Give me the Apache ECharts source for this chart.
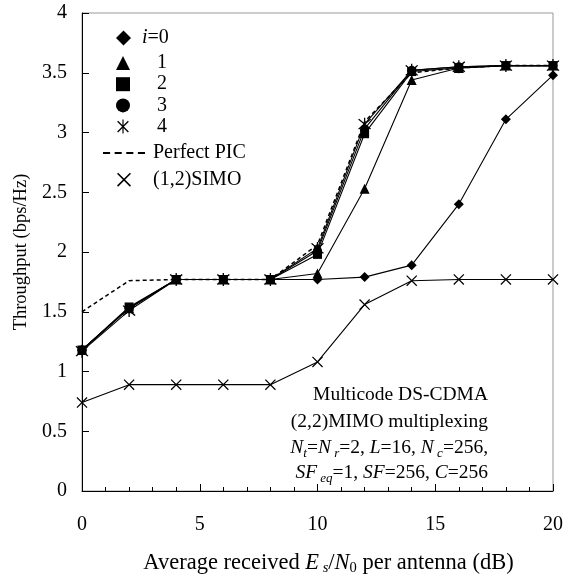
<!DOCTYPE html>
<html><head><meta charset="utf-8">
<script src="https://cdn.jsdelivr.net/npm/echarts@6/dist/echarts.min.js"></script>
<style>html,body{margin:0;padding:0;background:#fff}#c{width:576px;height:580px}</style>
</head><body><div id="c"></div>
<script>
const snr = [0, 2, 4, 6, 8, 10, 12, 14, 16, 18, 20];
const i0 = [1.18, 1.53, 1.77, 1.77, 1.77, 1.77, 1.79, 1.89, 2.40, 3.11, 3.48];
const i1 = [1.18, 1.53, 1.77, 1.77, 1.77, 1.82, 2.53, 3.44, 3.54, 3.56, 3.56];
const i2 = [1.18, 1.54, 1.77, 1.77, 1.77, 1.98, 2.99, 3.51, 3.54, 3.56, 3.56];
const i3 = [1.18, 1.53, 1.77, 1.77, 1.77, 2.01, 3.03, 3.52, 3.55, 3.56, 3.56];
const i4 = [1.17, 1.51, 1.77, 1.77, 1.77, 2.03, 3.07, 3.52, 3.55, 3.56, 3.56];
const pic = [1.50, 1.76, 1.77, 1.77, 1.77, 2.06, 3.09, 3.50, 3.54, 3.56, 3.56];
const simo = [0.74, 0.89, 0.89, 0.89, 0.89, 1.08, 1.56, 1.76, 1.77, 1.77, 1.77];
const yTicks = [0, 0.5, 1, 1.5, 2, 2.5, 3, 3.5, 4];
const xTicks = [0, 5, 10, 15, 20];

const FONT = '"Liberation Serif", "DejaVu Serif", serif';
const CROSS = 'path://M0,0.8 L0.8,0 L10,9.2 L9.2,10 Z M9.2,0 L10,0.8 L0.8,10 L0,9.2 Z';
const STAR = 'path://M0,0.8 L0.8,0 L10,9.2 L9.2,10 Z M9.2,0 L10,0.8 L0.8,10 L0,9.2 Z M4.5,-1 L5.5,-1 L5.5,11 L4.5,11 Z';
const DASH = 'path://M0,0 h7 v1.8 h-7 Z M11.5,0 h7 v1.8 h-7 Z M23,0 h7 v1.8 h-7 Z M34.5,0 h7 v1.8 h-7 Z';

function pairs(ys) { return snr.map((x, k) => [x, ys[k]]); }
function ser(name, ys, symbol, size, extra) {
  return Object.assign({
    name, type: 'line', data: pairs(ys), symbol, symbolSize: size,
    lineStyle: { color: '#000', width: 1.1 },
    itemStyle: { color: '#000' },
    emphasis: { disabled: true }, animation: false
  }, extra || {});
}
const T = (o) => Object.assign({ fontFamily: FONT, color: '#000' }, o);

const chart = echarts.init(document.getElementById('c'), null, { renderer: 'canvas' });
chart.setOption({
  backgroundColor: '#fff',
  animation: false,
  grid: { left: 82, right: 23, top: 13, bottom: 89, show: true, borderColor: '#999', borderWidth: 1,
    containLabel: false, outerBoundsMode: 'none' },
  xAxis: {
    type: 'value', min: 0, max: 20, interval: 5,
    axisLine: { lineStyle: { color: '#000', width: 1 } },
    axisTick: { inside: true, length: 7, lineStyle: { color: '#000' } },
    minorTick: { show: true, splitNumber: 5, length: 4, lineStyle: { color: '#000' } },
    splitLine: { show: false },
    axisLabel: T({ fontSize: 20, margin: 24, formatter: v => xTicks.includes(v) ? String(v) : '' }),
    name: '{r|Average received }{i|E}{si| s}{r|/}{i|N}{s|0}{r| per antenna (dB)}',
    nameLocation: 'middle', nameGap: 60,
    nameTextStyle: { padding: [0, 0, 0, 22], rich: {
      r: T({ fontSize: 22.5, lineHeight: 25 }),
      i: T({ fontSize: 22.5, fontStyle: 'italic', lineHeight: 25 }),
      si: T({ fontSize: 14.5, fontStyle: 'italic', lineHeight: 14, verticalAlign: 'bottom' }),
      s: T({ fontSize: 14.5, lineHeight: 14, verticalAlign: 'bottom' })
    } }
  },
  yAxis: {
    type: 'value', min: 0, max: 4, interval: 0.5,
    axisLine: { show: true, lineStyle: { color: '#000', width: 1 } },
    axisTick: { show: true, inside: true, length: 7, lineStyle: { color: '#000' } },
    splitLine: { show: false },
    axisLabel: T({ fontSize: 20, margin: 15, formatter: v => yTicks.includes(v) ? String(v) : '' }),
    name: 'Throughput (bps/Hz)', nameLocation: 'middle', nameGap: 50,
    nameTextStyle: T({ fontSize: 18.5 })
  },
  legend: [
    { data: [{ name: 'i=0', icon: 'diamond' }], orient: 'vertical', left: 116, top: 28, padding: 0,
      itemWidth: 15, itemHeight: 15, itemGap: 1, selectedMode: false,
      formatter: () => '{it|i}{n|=0}',
      textStyle: { padding: [0, 0, 0, 6], rich: {
        it: T({ fontSize: 20, fontStyle: 'italic', lineHeight: 20 }),
        n: T({ fontSize: 20, lineHeight: 20 }) } } },
    { data: [{ name: '1', icon: 'triangle' }, { name: '2', icon: 'rect' }, { name: '3', icon: 'circle' }, { name: '4', icon: STAR }],
      orient: 'vertical', left: 116, top: 53, padding: 0,
      itemWidth: 14, itemHeight: 14, itemGap: 1.2, selectedMode: false,
      formatter: n => '{n|' + n + '}',
      textStyle: { rich: { n: T({ fontSize: 20, lineHeight: 20, width: 32, align: 'right' }) } } },
    { data: [{ name: 'Perfect PIC', icon: DASH }, { name: '(1,2)SIMO', icon: CROSS }],
      orient: 'vertical', left: 103, top: 143, padding: 0,
      itemWidth: 42, itemHeight: 14, itemGap: 6.7, selectedMode: false,
      textStyle: T({ fontSize: 20, lineHeight: 20, padding: [0, 0, 0, 3] }) }
  ],
  series: [
    ser('(1,2)SIMO', simo, CROSS, 11),
    ser('i=0', i0, 'diamond', 10),
    ser('1', i1, 'triangle', 10),
    ser('2', i2, 'rect', 9),
    ser('3', i3, 'circle', 9),
    ser('4', i4, STAR, 13),
    ser('Perfect PIC', pic, 'none', 0, { lineStyle: { color: '#000', width: 1.5, type: [4, 3] } })
  ],
  graphic: [
    { type: 'text', x: 488, y: 395, style: { text: 'Multicode DS-CDMA', font: '19.5px ' + FONT, fill: '#000', align: 'right', verticalAlign: 'middle' } },
    { type: 'text', x: 488, y: 421.5, style: { text: '(2,2)MIMO multiplexing', font: '19.5px ' + FONT, fill: '#000', align: 'right', verticalAlign: 'middle' } },
    { type: 'text', x: 488, y: 448, style: { align: 'right', verticalAlign: 'middle',
      text: '{i|N}{si|t}{r|=}{i|N}{si| r}{r|=2, }{i|L}{r|=16, }{i|N}{si| c}{r|=256,}',
      rich: {
        r: { fontFamily: FONT, fontSize: 19.5, fill: '#000', lineHeight: 24 },
        i: { fontFamily: FONT, fontSize: 19.5, fontStyle: 'italic', fill: '#000', lineHeight: 24 },
        si: { fontFamily: FONT, fontSize: 13, fontStyle: 'italic', fill: '#000', lineHeight: 13, verticalAlign: 'bottom' }
      } } },
    { type: 'text', x: 488, y: 473, style: { align: 'right', verticalAlign: 'middle',
      text: '{i|SF}{si| eq}{r|=1, }{i|SF}{r|=256, }{i|C}{r|=256}',
      rich: {
        r: { fontFamily: FONT, fontSize: 19.5, fill: '#000', lineHeight: 24 },
        i: { fontFamily: FONT, fontSize: 19.5, fontStyle: 'italic', fill: '#000', lineHeight: 24 },
        si: { fontFamily: FONT, fontSize: 13, fontStyle: 'italic', fill: '#000', lineHeight: 13, verticalAlign: 'bottom' }
      } } }
  ]
});
</script></body></html>
